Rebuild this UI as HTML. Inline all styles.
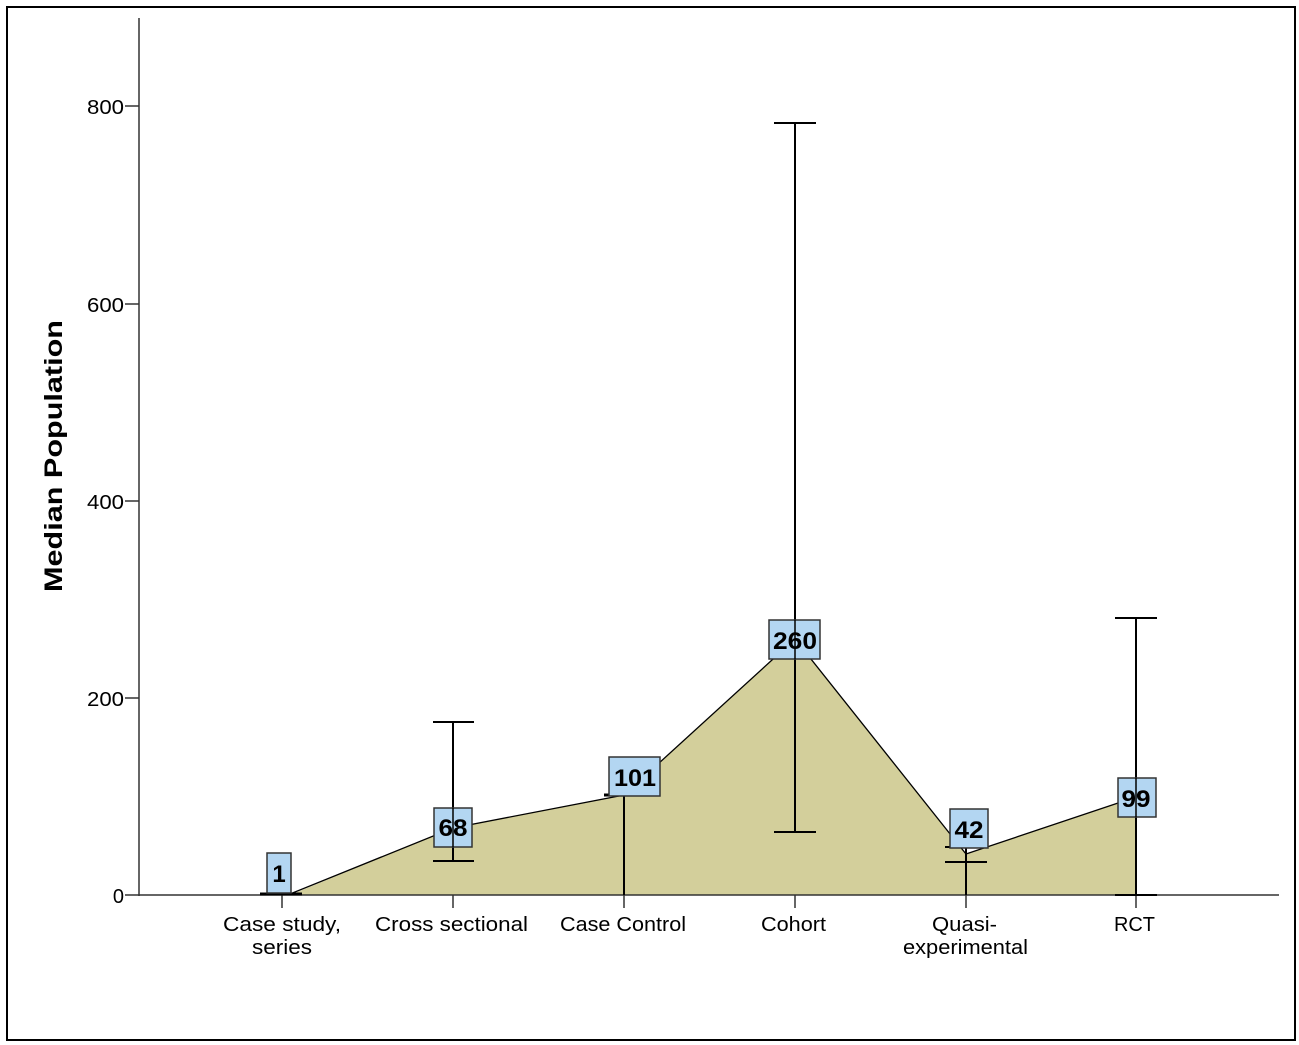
<!DOCTYPE html>
<html><head><meta charset="utf-8"><style>
html,body{margin:0;padding:0;background:#fff;}
svg{display:block;}
text{font-family:"Liberation Sans",Arial,sans-serif;}
</style></head><body>
<svg width="1299" height="1045" viewBox="0 0 1299 1045" xmlns="http://www.w3.org/2000/svg">
<rect x="0" y="0" width="1299" height="1045" fill="#fff"/>
<rect x="7" y="7" width="1288" height="1033" fill="none" stroke="#000" stroke-width="2"/>
<polygon points="290,895 453,828 624,795 795,639 966,854 1136,797 1136,895" fill="#d3cf9b"/>
<polyline points="290,894 453,828 624,795 795,639 966,854 1136,797" fill="none" stroke="#000" stroke-width="1.3"/>
<line x1="139" y1="18" x2="139" y2="896" stroke="#333" stroke-width="1.5"/>
<line x1="139" y1="895" x2="1279" y2="895" stroke="#333" stroke-width="1.5"/>
<g stroke="#333" stroke-width="1.5">
<line x1="125" y1="106" x2="139" y2="106"/>
<line x1="125" y1="304" x2="139" y2="304"/>
<line x1="125" y1="501" x2="139" y2="501"/>
<line x1="125" y1="698" x2="139" y2="698"/>
<line x1="125" y1="895" x2="139" y2="895"/>
<line x1="282" y1="895" x2="282" y2="908"/>
<line x1="453" y1="895" x2="453" y2="908"/>
<line x1="624" y1="895" x2="624" y2="908"/>
<line x1="795" y1="895" x2="795" y2="908"/>
<line x1="966" y1="895" x2="966" y2="908"/>
<line x1="1136" y1="895" x2="1136" y2="908"/>
</g>
<g font-size="20" fill="#000" text-anchor="end">
<text x="124" y="114" textLength="37" lengthAdjust="spacingAndGlyphs">800</text>
<text x="124" y="312" textLength="37" lengthAdjust="spacingAndGlyphs">600</text>
<text x="124" y="509" textLength="37" lengthAdjust="spacingAndGlyphs">400</text>
<text x="124" y="706" textLength="37" lengthAdjust="spacingAndGlyphs">200</text>
<text x="124" y="903">0</text>
</g>
<text transform="translate(62,456) rotate(-90)" font-size="25" font-weight="bold" text-anchor="middle" textLength="272" lengthAdjust="spacingAndGlyphs">Median Population</text>
<g font-size="20" fill="#000">
<text x="223" y="931" textLength="118" lengthAdjust="spacingAndGlyphs">Case study,</text>
<text x="252" y="954" textLength="60" lengthAdjust="spacingAndGlyphs">series</text>
<text x="375" y="931" textLength="153" lengthAdjust="spacingAndGlyphs">Cross sectional</text>
<text x="560" y="931" textLength="126" lengthAdjust="spacingAndGlyphs">Case Control</text>
<text x="761" y="931" textLength="65" lengthAdjust="spacingAndGlyphs">Cohort</text>
<text x="932" y="931" textLength="65" lengthAdjust="spacingAndGlyphs">Quasi-</text>
<text x="903" y="954" textLength="125" lengthAdjust="spacingAndGlyphs">experimental</text>
<text x="1114" y="931" textLength="41" lengthAdjust="spacingAndGlyphs">RCT</text>
</g>
<g stroke="#000" stroke-width="2">
<line x1="260" y1="894" x2="302" y2="894" stroke-width="3"/>
<line x1="453" y1="722" x2="453" y2="861"/>
<line x1="433" y1="722" x2="474" y2="722"/>
<line x1="433" y1="861" x2="474" y2="861"/>
<line x1="624" y1="795" x2="624" y2="895"/>
<line x1="604" y1="795" x2="645" y2="795" stroke-width="3"/>
<line x1="795" y1="123" x2="795" y2="832"/>
<line x1="774" y1="123" x2="816" y2="123"/>
<line x1="774" y1="832" x2="816" y2="832"/>
<line x1="966" y1="847" x2="966" y2="895"/>
<line x1="945" y1="847" x2="987" y2="847"/>
<line x1="945" y1="862" x2="987" y2="862"/>
<line x1="1136" y1="618" x2="1136" y2="895"/>
<line x1="1115" y1="618" x2="1157" y2="618"/>
<line x1="1115" y1="895" x2="1157" y2="895"/>
</g>
<g fill="#b3d6f2" stroke="#333" stroke-width="1.5">
<rect x="267" y="853" width="24" height="40"/>
<rect x="434" y="808" width="38" height="39"/>
<rect x="609" y="757" width="51" height="39"/>
<rect x="769" y="620" width="51" height="39"/>
<rect x="950" y="809" width="38" height="39"/>
<rect x="1118" y="778" width="38" height="39"/>
</g>
<line x1="453" y1="808" x2="453" y2="847" stroke="#000" stroke-width="1.5"/>
<line x1="795" y1="620" x2="795" y2="659" stroke="#000" stroke-width="1.5"/>
<line x1="1136" y1="778" x2="1136" y2="817" stroke="#000" stroke-width="1.5"/>
<g font-size="24" font-weight="bold" fill="#000" text-anchor="middle">
<text x="279" y="882">1</text>
<text x="453" y="836" textLength="29" lengthAdjust="spacingAndGlyphs">68</text>
<text x="635" y="786" textLength="42" lengthAdjust="spacingAndGlyphs">101</text>
<text x="795" y="649" textLength="44" lengthAdjust="spacingAndGlyphs">260</text>
<text x="969" y="838" textLength="29" lengthAdjust="spacingAndGlyphs">42</text>
<text x="1136" y="807" textLength="29" lengthAdjust="spacingAndGlyphs">99</text>
</g>
</svg>
</body></html>
